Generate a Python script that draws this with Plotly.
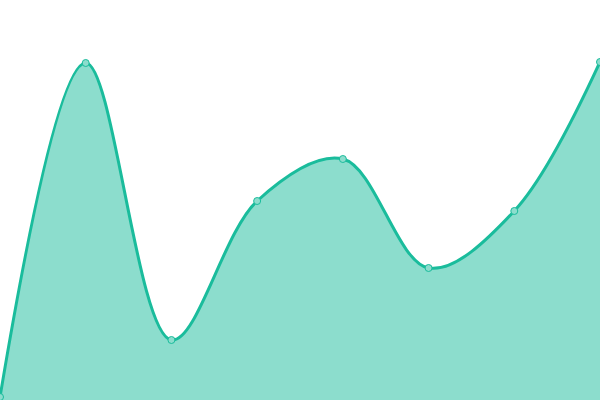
import plotly.graph_objects as go

# point positions and values
x_vals = [0, 1, 2, 3, 4, 5, 6, 7]
y_vals = [3, 337, 60, 199, 241, 132, 189, 338]

line_color = '#1abc9c'
fill_color = 'rgba(26, 188, 156, 0.5)'

fig = go.Figure(data=go.Scatter(
    x=x_vals, y=y_vals,
    mode='lines+markers',
    line=dict(color=line_color, width=3, shape='spline', smoothing=1),
    marker=dict(size=7, color='#8cddcd', line=dict(color=line_color, width=1)),
    fill='tozeroy', fillcolor=fill_color,
    cliponaxis=False,
    hoverinfo='skip',
))

fig.update_layout(
    width=600, height=400,
    margin=dict(l=0, r=0, t=0, b=0),
    paper_bgcolor='white', plot_bgcolor='white',
    showlegend=False,
    xaxis=dict(range=[0, 7], visible=False, fixedrange=True),
    yaxis=dict(range=[0, 400], visible=False, fixedrange=True),
)

# drop the page margin so the chart sits flush in the 600x400 window
fig.write_html("out.html", config={'displayModeBar': False},
               post_script="document.body.style.margin='0';document.body.style.overflow='hidden';")
